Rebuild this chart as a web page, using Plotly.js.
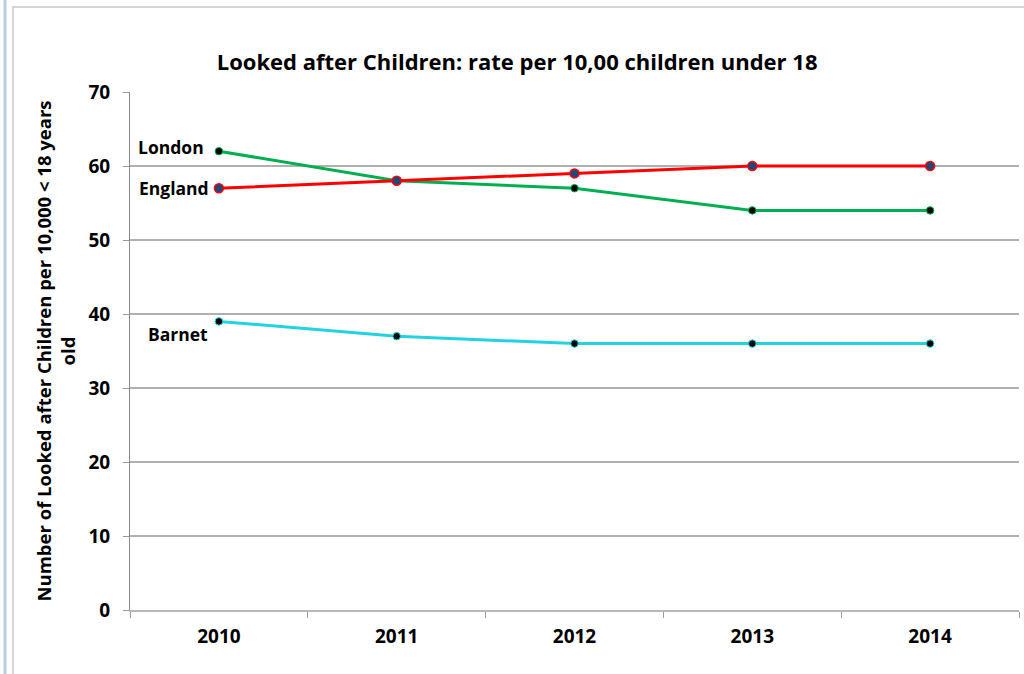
<!DOCTYPE html>
<html>
<head>
<meta charset="utf-8">
<script src="https://cdn.plot.ly/plotly-3.0.1.min.js"></script>
<style>html,body{margin:0;padding:0;background:#fff;}#chart{width:1024px;height:674px;}</style>
</head>
<body>
<div id="chart"></div>
<script>
const years = ['2010', '2011', '2012', '2013', '2014'];
const england = [57, 58, 59, 60, 60];
const london = [62, 58, 57, 54, 54];
const barnet = [39, 37, 36, 36, 36];
const yTicks = [0, 10, 20, 30, 40, 50, 60, 70];
const seriesNames = ['England', 'London', 'Barnet'];
const labelYs = [57.0, 62.6, 37.3];

const fontFam = 'Open Sans, Liberation Sans, sans-serif';
const firstIdx = years.indexOf('2010');

const traces = [
  {x: years, y: london, name: seriesNames[1], mode: 'lines+markers',
   line: {color: '#00b050', width: 3},
   marker: {color: '#000000', size: 7.5, line: {color: '#00b050', width: 1}}},
  {x: years, y: england, name: seriesNames[0], mode: 'lines+markers',
   line: {color: '#ff0000', width: 3},
   marker: {color: '#1f497d', size: 9, line: {color: '#ff0000', width: 1.5}}},
  {x: years, y: barnet, name: seriesNames[2], mode: 'lines+markers',
   line: {color: '#22d3e0', width: 3},
   marker: {color: '#000000', size: 7.5, line: {color: '#22d3e0', width: 1}}}
];

const layout = {
  width: 1024, height: 674,
  margin: {l: 130, r: 5, t: 92, b: 64},
  paper_bgcolor: '#ffffff', plot_bgcolor: '#ffffff',
  showlegend: false,
  font: {family: fontFam, color: '#000000'},
  title: {text: '<b>Looked after Children: rate per 10,00 children under 18</b>',
          font: {family: fontFam, size: 22, color: '#000000'},
          x: 0.505, xanchor: 'center', y: 0.908, yanchor: 'middle'},
  xaxis: {type: 'category', range: [-0.5, 4.5], tickson: 'boundaries',
          ticks: 'outside', ticklen: 6, tickcolor: '#9a9a9a', tickwidth: 1,
          showline: true, linecolor: '#b8b8b8', linewidth: 2, showgrid: false,
          tickfont: {family: fontFam, size: 19, color: '#000000', weight: 'bold'},
          ticklabelstandoff: 8, zeroline: false},
  yaxis: {range: [0, 70], tickvals: yTicks, ticktext: yTicks.map(String),
          ticks: 'outside', ticklen: 6, tickcolor: '#9a9a9a',
          showline: true, linecolor: '#8a8a8a', linewidth: 1,
          showgrid: true, gridcolor: '#b0b0b0', gridwidth: 1.3, zeroline: false,
          tickfont: {family: fontFam, size: 19, color: '#000000', weight: 'bold'},
          ticklabelstandoff: 9,
          title: {text: '<b>Number of Looked after Children per 10,000 < 18 years<br>old</b>',
                  font: {family: fontFam, size: 18.5, color: '#000000'}, standoff: 7}},
  annotations: [
    {xref: 'x', yref: 'y', x: firstIdx, y: labelYs[1], text: '<b>' + seriesNames[1] + '</b>', showarrow: false,
     xanchor: 'right', xshift: -13, font: {family: fontFam, size: 17.5, color: '#000'}},
    {xref: 'x', yref: 'y', x: firstIdx, y: labelYs[0], text: '<b>' + seriesNames[0] + '</b>', showarrow: false,
     xanchor: 'right', xshift: -8, font: {family: fontFam, size: 17.5, color: '#000'}},
    {xref: 'x', yref: 'y', x: firstIdx, y: labelYs[2], text: '<b>' + seriesNames[2] + '</b>', showarrow: false,
     xanchor: 'right', xshift: -9, font: {family: fontFam, size: 17.5, color: '#000'}}
  ],
  shapes: [
    {type: 'line', xref: 'paper', yref: 'paper', x0: -125/889, x1: -125/889, y0: -2, y1: 2,
     line: {color: '#b9cde5', width: 3}},
    {type: 'rect', xref: 'paper', yref: 'paper', x0: -117/889, x1: 1.5, y0: -2, y1: (610-7)/518,
     line: {color: '#c8c8c8', width: 1.5}}
  ]
};

Plotly.newPlot('chart', traces, layout, {displayModeBar: false, staticPlot: true});
</script>
</body>
</html>
